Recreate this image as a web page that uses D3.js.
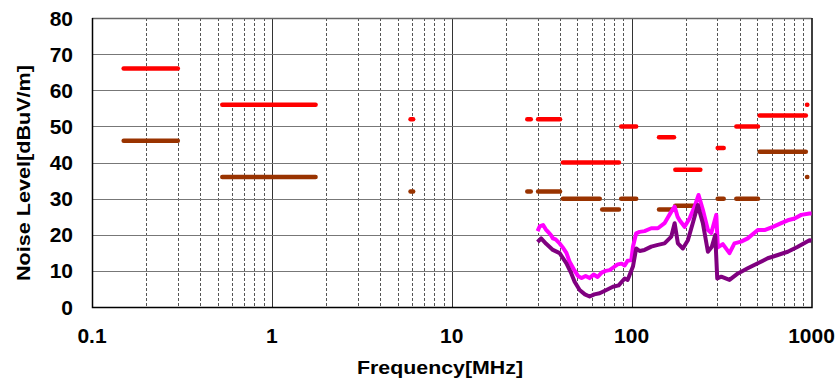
<!DOCTYPE html>
<html><head><meta charset="utf-8">
<script src="https://cdn.jsdelivr.net/npm/d3@7"></script>
<style>body{margin:0;background:#fff}svg{display:block}text{font-family:"Liberation Sans",Arial,sans-serif;font-weight:bold;fill:#000}</style>
</head><body>
<script>
// ---- data ----
const xTickLabels = ["0.1","1","10","100","1000"];
const xTickValues = [0.1,1,10,100,1000];
const yTickValues = [0,10,20,30,40,50,60,70,80];
// limit segments: [fStart MHz, fEnd MHz, level dBuV/m]
const peakLimits = [[0.15,0.30,66],[0.53,1.75,56],[5.9,6.1,52],[26.3,27.5,52],[30.2,40,52],[41.5,85,40],[87.5,106,50],[142,172,47],[175,241,38],[301,325,44],[382,504,50],[515,930,53],[944,948,56]];
const avgLimits  = [[0.15,0.30,46],[0.53,1.75,36],[5.9,6.1,32],[26.3,27.5,32],[30.2,40,32],[41.5,66.5,30],[68.6,85,27],[87.5,106,30],[142,172,27],[175,241,28],[301,325,30],[382,504,30],[515,930,43],[944,948,36]];
// measured traces
const peakFreq = [30,30.8,32.2,33.3,34.3,35.5,36.5,37.8,39.8,41.4,43.4,45.2,47.6,50.3,52.7,55.5,58.4,61.5,64.7,68.1,71.7,75.5,79.4,83.6,88.0,91.5,95.0,99.6,101.7,106,110.8,118,128.6,140,152.4,166.2,173.4,180.1,184.8,196.9,209.9,223.9,235.6,248.9,265.5,277.3,295.6,301.5,321.4,350,373,406,442,503,548,610,679,738,805,877,975,1000];
const peakVal  = [21.0,22.3,22.7,21.5,20.8,20.0,19.0,18.7,17.6,16.5,15.0,12.5,10.5,8.6,8.0,8.6,8.0,9.0,8.3,9.5,10.0,10.2,11.0,11.8,12.0,11.5,12.8,13.0,16.7,20.4,20.8,21.0,21.8,21.8,23.2,26.4,27.8,25.0,24.0,22.2,24.5,27.8,31.0,26.9,21.3,20.5,25.5,16.5,17.4,14.9,17.6,18.1,19.0,21.3,21.3,22.2,23.2,24.0,24.5,25.5,25.9,25.9];
const avgFreq = [30,31.4,33.5,36.5,39.8,43.4,46.2,48.2,51.4,55,58.4,62,66.4,71,78.7,84.7,91.5,95.0,101.7,106,110.8,118,128.6,140,152.4,166.2,173.4,180.8,192.7,205.5,218.7,233.3,248.9,265.5,279.3,291.7,299.2,315,350,390,442,503,571,650,738,839,975,1000];
const avgVal  = [18.0,19.0,17.5,15.8,14.9,12.1,9.3,7.0,4.7,3.5,2.9,3.5,3.8,4.5,5.6,6.0,7.9,7.5,11.2,16.2,15.5,15.8,16.7,17.2,17.6,19.5,23.2,17.6,16.2,18.5,23.2,28.2,23.2,15.3,16.7,19.9,7.9,8.4,7.5,9.3,10.7,12.1,13.5,14.4,15.3,16.7,18.5,18.3];

// ---- chart ----
const W=840,H=380, L=92, T=18, R=811.5, B=307;
const svg=d3.select("body").append("svg").attr("width",W).attr("height",H);
const x=d3.scaleLog().domain([0.1,1000]).range([L,R]);
const y=d3.scaleLinear().domain([0,80]).range([B,T]);

// minor vertical grid
const minor=[];
for(let d=0.1; d<1000; d*=10){ for(let k=2;k<=9;k++) minor.push(d*k); }
svg.append("g").selectAll("line").data(minor).join("line")
  .attr("x1",d=>Math.round(x(d))+0.5).attr("x2",d=>Math.round(x(d))+0.5)
  .attr("y1",T).attr("y2",B).attr("stroke","#555").attr("stroke-width",1).attr("stroke-dasharray","3,2");
// major vertical
svg.append("g").selectAll("line").data([1,10,100]).join("line")
  .attr("x1",d=>Math.round(x(d))+0.5).attr("x2",d=>Math.round(x(d))+0.5)
  .attr("y1",T).attr("y2",B).attr("stroke","#333").attr("stroke-width",1);
// horizontal grid
svg.append("g").selectAll("line").data([10,20,30,40,50,60,70,80]).join("line")
  .attr("x1",L).attr("x2",R).attr("y1",d=>Math.round(y(d))+0.5).attr("y2",d=>Math.round(y(d))+0.5)
  .attr("stroke",d=>d===80?"#666":"#777").attr("stroke-width",d=>d===80?1.5:1.2);
// frame left/bottom/right
svg.append("path").attr("d",`M${L+0.5},${T}V${B+0.5}H${R+0.5}V${T}`).attr("fill","none").attr("stroke","#000").attr("stroke-width",1.5);

// limits
function segs(data,color){
  svg.append("g").selectAll("line").data(data).join("line")
    .attr("x1",d=>x(d[0])).attr("x2",d=>x(d[1]))
    .attr("y1",d=>y(d[2])).attr("y2",d=>y(d[2]))
    .attr("stroke",color).attr("stroke-width",4.5).attr("stroke-linecap","round");
}
segs(peakLimits,"#ff0000");
segs(avgLimits,"#993300");

// traces
const line=d3.line().x(d=>x(d[0])).y(d=>y(d[1]));
svg.append("path").datum(peakFreq.map((f,i)=>[f,peakVal[i]])).attr("d",line)
  .attr("fill","none").attr("stroke","#ff00ff").attr("stroke-width",4).attr("stroke-linejoin","round");
svg.append("path").datum(avgFreq.map((f,i)=>[f,avgVal[i]])).attr("d",line)
  .attr("fill","none").attr("stroke","#800080").attr("stroke-width",4).attr("stroke-linejoin","round");

// tick labels
svg.append("g").selectAll("text").data(yTickValues).join("text")
  .attr("x",73).attr("y",d=>y(d)+7.5).attr("text-anchor","end")
  .attr("font-size",21).text(d=>d);
svg.append("g").selectAll("text").data(xTickValues).join("text")
  .attr("x",d=>x(d)).attr("y",343).attr("text-anchor","middle")
  .attr("font-size",21).text((d,i)=>xTickLabels[i]);
// axis titles
svg.append("text").attr("x",440).attr("y",374).attr("text-anchor","middle")
  .attr("font-size",18).attr("textLength",166).attr("lengthAdjust","spacingAndGlyphs").text("Frequency[MHz]");
svg.append("text").attr("transform","translate(30,173) rotate(-90)").attr("text-anchor","middle")
  .attr("font-size",18).attr("textLength",216).attr("lengthAdjust","spacingAndGlyphs").text("Noise Level[dBuV/m]");
</script>
</body></html>
